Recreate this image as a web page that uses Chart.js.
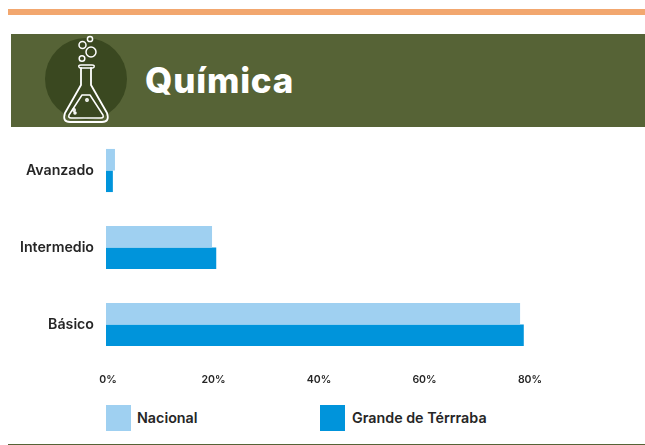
<!DOCTYPE html>
<html>
<head>
<meta charset="utf-8">
<script src="https://cdn.jsdelivr.net/npm/chart.js@4"></script>
<style>
html,body{margin:0;padding:0;background:#fff;width:645px;height:445px;overflow:hidden;font-family:Inter,sans-serif}
.abs{position:absolute}
#legend span{position:absolute;font:600 14.3px Inter,sans-serif;color:#262626;white-space:nowrap;line-height:16px}
#legend i{position:absolute;width:25px;height:26px;display:block}
</style>
</head>
<body>
<div class="abs" style="left:8px;top:9px;width:637px;height:6px;background:#F2A76F"></div>
<div class="abs" style="left:11px;top:34px;width:634px;height:93px;background:#566336"></div>
<svg class="abs" style="left:0;top:30px" width="200" height="100" viewBox="0 30 200 100" fill="none" stroke="#fff" stroke-width="1.5" stroke-linejoin="round" stroke-linecap="round">
  <circle cx="86" cy="79" r="41" fill="#3A4820" stroke="none"/>
  <path d="M79 67 Q78 65 81 65 H92 Q95 65 94 67 Q94 68 91 68 H81 Q79 68 79 67 Z"/>
  <path d="M81 68 V85 L65 113 Q62 122 70 122 H102 Q110 122 107 113 L91 85 V68" stroke-width="1.8"/>
  <path d="M82 95 L69 115 Q68 118 71 118 H101 Q104 118 103 115 L90 95 Z"/>
  <circle cx="91" cy="52" r="5"/>
  <circle cx="82.5" cy="45" r="3.5"/>
  <circle cx="90" cy="39" r="2.6"/>
  <circle cx="82" cy="58.5" r="2.8"/>
  <circle cx="87" cy="100" r="1.2"/><circle cx="74" cy="110" r="1.2"/><circle cx="75" cy="113" r="1"/>
</svg>
<div class="abs" style="left:145px;top:58px;color:#fff;font:800 35px/44px Inter,sans-serif;letter-spacing:0.8px">Química</div>
<canvas id="c" class="abs" style="left:0;top:127px" width="645" height="270"></canvas>
<div id="legend"></div>
<div class="abs" style="left:8px;top:444px;width:637px;height:1px;background:#566336"></div>
<script>
const categories = ["Avanzado", "Intermedio", "Básico"];
const nacional = [1.7, 20.1, 78.5];
const grandeDeTerraba = [1.3, 20.9, 79.2];
const seriesNames = ["Nacional", "Grande de Térrraba"];
const seriesColors = ["#9FD0F1", "#0094DB"];
const tickLabels = ["0%", "20%", "40%", "60%", "80%"];

new Chart(document.getElementById("c"), {
  type: "bar",
  data: {
    labels: categories,
    datasets: [
      { label: seriesNames[0], data: nacional, backgroundColor: seriesColors[0] },
      { label: seriesNames[1], data: grandeDeTerraba, backgroundColor: seriesColors[1] }
    ]
  },
  options: {
    indexAxis: "y",
    responsive: false,
    animation: false,
    categoryPercentage: 0.56,
    barPercentage: 1,
    layout: { padding: { left: 0, right: 117, top: 5, bottom: 0 } },
    plugins: { legend: { display: false }, tooltip: { enabled: false } },
    scales: {
      x: {
        min: 0, max: 80,
        grid: { display: false, drawTicks: false }, border: { display: false },
        afterBuildTicks(s) { s.ticks = tickLabels.map((_, i) => ({ value: i * 20 })); },
        afterFit(s) { s.height = 34; },
        ticks: {
          maxRotation: 0,
          autoSkip: false,
          labelOffset: 2,
          padding: 11,
          color: "#262626",
          font: { family: "Inter", size: 10.5, weight: "600" },
          callback(v, i) { return tickLabels[i]; }
        }
      },
      y: {
        grid: { display: false, drawTicks: false }, border: { display: false },
        afterFit(s) { s.width = 106; s.paddingTop = 0; s.paddingBottom = 0; },
        ticks: {
          padding: 12,
          color: "#262626",
          font: { family: "Inter", size: 14.2, weight: "600" }
        }
      }
    }
  }
});

const legend = document.getElementById("legend");
const legendX = [106, 320], textX = [137, 352];
seriesNames.forEach((n, i) => {
  const b = document.createElement("i");
  b.style.cssText = `left:${legendX[i]}px;top:405px;background:${seriesColors[i]}`;
  const t = document.createElement("span");
  t.style.cssText = `left:${textX[i]}px;top:410px`;
  t.textContent = n;
  legend.append(b, t);
});
</script>
</body>
</html>
